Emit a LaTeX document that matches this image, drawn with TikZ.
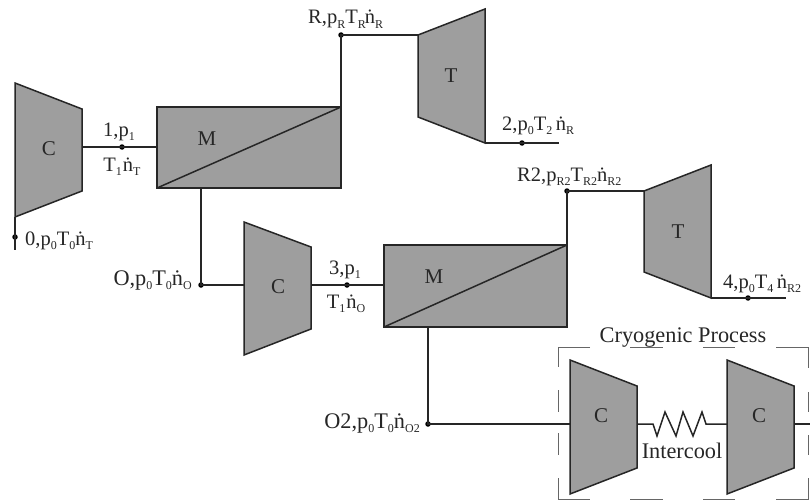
\documentclass[tikz,border=0pt]{standalone}
\usepackage{fontspec}
\setmainfont{Liberation Serif}
\newcommand{\sbs}[1]{\raisebox{-0.2em}{\fontsize{12}{13}\selectfont #1}}
\newcommand{\ndot}{\symbol{"1E45}}
\tikzset{
 ln/.style={draw=black!85,line width=1.5pt,line join=miter},
 unit/.style={ln,fill=black!38},
 lab/.style={font=\fontsize{20.5}{22}\selectfont,text=black!85,inner sep=0pt},
 wide/.style={font=\fontsize{22.3}{24}\selectfont,text=black!85,inner sep=0pt},
 big/.style={font=\fontsize{21}{23}\selectfont,text=black!85,inner sep=0pt},
 pt/.style={circle,fill=black,inner sep=0pt,minimum size=5.5pt},
 dsh/.style={draw=black!60,line width=1pt},
}
\begin{document}
\begin{tikzpicture}[x=1pt,y=-1pt]
\useasboundingbox (0,0) rectangle (810,500);
% free ends and corners
\coordinate (c0end) at (15,250);
\coordinate (t1out) at (559,143);
\coordinate (t2out) at (786,298);
\coordinate (c4end) at (810,424);
% points on lines
\node[pt] (p0) at (15,237) {};
\node[pt] (p1) at (122,147) {};
\node[pt] (pR) at (341,35) {};
\node[pt] (p2) at (522,143) {};
\node[pt] (pO) at (201,285) {};
\node[pt] (p3) at (347,285) {};
\node[pt] (pR2) at (567,191) {};
\node[pt] (p4) at (748,298) {};
\node[pt] (pO2) at (428,424) {};
% connectors
\draw[ln] (15,217) -- (p0.center) -- (c0end);
\draw[ln] (82,147) -- (p1.center) -- (157,147);
\draw[ln] (341,107) -- (pR.center) -- (418,35);
\draw[ln] (485,143) -- (p2.center) -- (t1out);
\draw[ln] (201,188) -- (pO.center) -- (244,285);
\draw[ln] (311,285) -- (p3.center) -- (384,285);
\draw[ln] (567,245) -- (pR2.center) -- (644,191);
\draw[ln] (711,298) -- (p4.center) -- (t2out);
\draw[ln] (428,327) -- (pO2.center) -- (570,424);
\draw[ln] (637,424) -- (653,424) -- (657,436) -- (665,412) -- (676,436) -- (683,412) -- (693,436) -- (702,412) -- (706,424) -- (727,424);
\draw[ln] (794,424) -- (c4end);
% machines
\draw[unit] (15,83) -- (82,109) -- (82,191) -- (15,217) -- cycle;
\draw[unit] (418,35) -- (485,9) -- (485,143) -- (418,117) -- cycle;
\draw[unit] (244,222) -- (311,247) -- (311,329) -- (244,355) -- cycle;
\draw[unit] (644,191) -- (711,165) -- (711,298) -- (644,272) -- cycle;
\draw[unit] (570,360) -- (637,386) -- (637,468) -- (570,494) -- cycle;
\draw[unit] (727,360) -- (794,386) -- (794,468) -- (727,494) -- cycle;
\draw[unit] (157,107) rectangle (341,188);
\draw[ln] (157,188) -- (341,107);
\draw[unit] (384,245) rectangle (567,327);
\draw[ln] (384,327) -- (567,245);
% dashed box
\draw[dsh] (590,347) -- (558,347) -- (558,367);
\draw[dsh] (630,347) -- (663,347);
\draw[dsh] (703,347) -- (735,347);
\draw[dsh] (776,347) -- (808,347) -- (808,368);
\draw[dsh] (558,390) -- (558,412);
\draw[dsh] (558,433) -- (558,455);
\draw[dsh] (558,478) -- (558,499) -- (590,499);
\draw[dsh] (630,499) -- (663,499);
\draw[dsh] (703,499) -- (735,499);
\draw[dsh] (776,499) -- (808,499) -- (808,478);
\draw[dsh] (808,392) -- (808,412);
\draw[dsh] (808,435) -- (808,455);
% texts
\node[big] (cA) at (49,149) {C};
\node[big] (mA) at (207,139) {M};
\node[big] (tA) at (451,76) {T};
\node[big] (cB) at (278,287) {C};
\node[big] (mB) at (434,277) {M};
\node[big] (tB) at (678,232) {T};
\node[big] (cC) at (601,416) {C};
\node[big] (cD) at (759,416) {C};
\node[lab,anchor=base west] (l0) at (25,245) {0,p\sbs{0}T\sbs{0}\ndot\sbs{T}};
\node[lab,anchor=base] (l1a) at (119,136) {1,p\sbs{1}};
\node[lab,anchor=base] (l1b) at (122,171) {T\sbs{1}\kern1pt\ndot\sbs{T}};
\node[lab,anchor=base west] (lR) at (308,24) {R,p\sbs{R}T\sbs{R}\kern-1pt\ndot\sbs{R}};
\node[lab,anchor=base west] (l2) at (502,130) {2,p\sbs{0}T\sbs{2}\,\ndot\sbs{R}};
\node[wide,anchor=base east] (lO) at (192,285) {O,p\sbs{0}T\sbs{0}\ndot\sbs{O}};
\node[lab,anchor=base] (l3a) at (345,274) {3,p\sbs{1}};
\node[lab,anchor=base] (l3b) at (346,308) {T\sbs{1}\kern1pt\ndot\sbs{O}};
\node[lab,anchor=base west] (lR2) at (517,181) {R2,p\sbs{R2}T\sbs{R2}\ndot\sbs{R2}};
\node[lab,anchor=base west] (l4) at (723,288) {4,p\sbs{0}T\sbs{4}\,\ndot\sbs{R2}};
\node[wide,anchor=base east] (lO2) at (420,428) {O2,p\sbs{0}T\sbs{0}\ndot\sbs{O2}};
\node[wide,anchor=base] (cryo) at (683,342) {Cryogenic Process};
\node[wide,anchor=base] (ic) at (682,458) {Intercool};
\end{tikzpicture}
\end{document}
